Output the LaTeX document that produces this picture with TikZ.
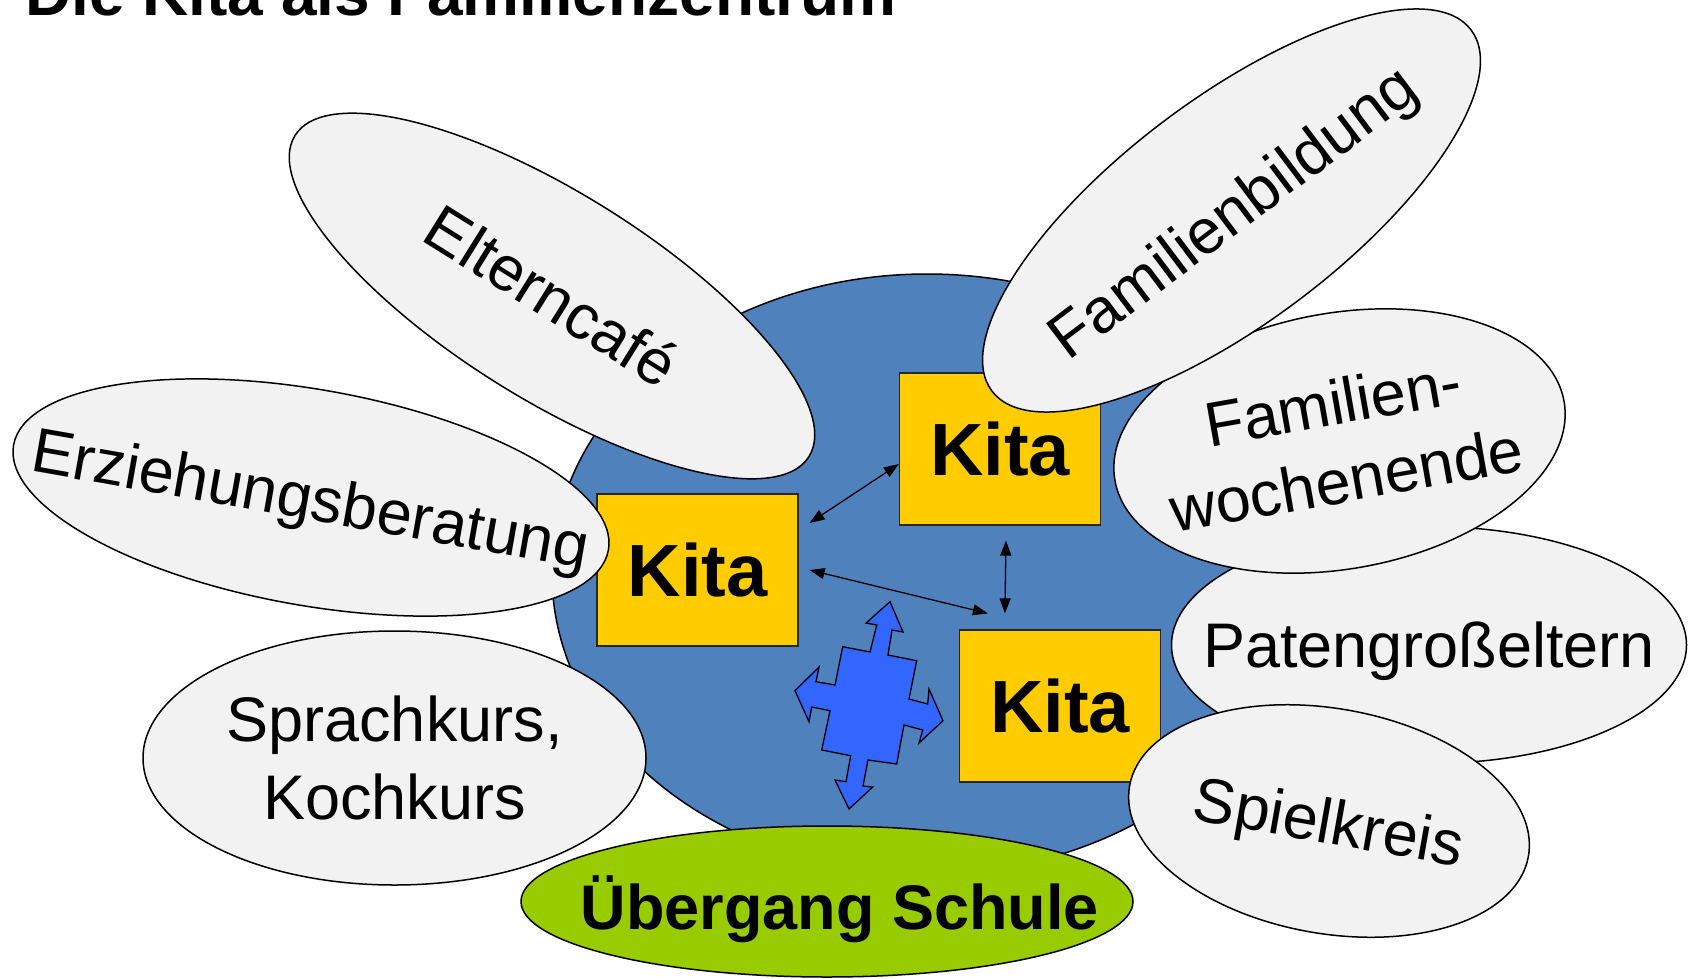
\documentclass[tikz,border=0pt]{standalone}
\usepackage{fontspec}
\setmainfont{Liberation Sans}
\usetikzlibrary{shapes.geometric,arrows.meta,calc}
\definecolor{hubblue}{HTML}{4F81BD}
\definecolor{bubblegray}{HTML}{F2F2F2}
\definecolor{kitayellow}{HTML}{FFCC00}
\definecolor{schulgreen}{HTML}{99CC00}
\definecolor{crossblue}{HTML}{3366FF}
\begin{document}
\begin{tikzpicture}[x=1pt,y=-1pt,
  bubble/.style={ellipse, draw=black, line width=1.5pt, fill=bubblegray, inner sep=0pt},
  bubbletext/.style={inner sep=0pt, align=center, font=\fontsize{63}{78}\selectfont},
  onelinetext/.style={bubbletext, text height=45pt, text depth=0pt},
  kitabox/.style={rectangle, draw=black!85, line width=1.2pt, fill=kitayellow,
    minimum width=201pt, minimum height=152pt, inner sep=0pt,
    font=\fontsize{74}{80}\selectfont\bfseries, text height=53pt, text depth=0pt},
  link/.style={{Triangle[length=15pt,width=11pt]}-{Triangle[length=15pt,width=11pt]}, line width=1.3pt, draw=black}]
\useasboundingbox (0,0) rectangle (1689,979);

% title
\node[anchor=base west, inner sep=0pt, font=\fontsize{64}{70}\selectfont\bfseries] (title) at (25,16) {Die Kita als Familienzentrum};

% central blue area
\node[ellipse, draw=black, line width=1.5pt, fill=hubblue, minimum width=750pt, minimum height=600pt, inner sep=0pt] (hub) at (927,574) {};

% Kita boxes
\node[kitabox] (kl) at (697.5,570) {Kita};
\node[kitabox] (kt) at (1000,449) {Kita};
\node[kitabox] (kb) at (1060,706) {Kita};

% links
\draw[link] ($(kl.east)+(11,-47)$) -- ($(kt.west)+(0,15)$);
\draw[link] ($(kl.east)+(11,0)$) -- ($(kb.north west)+(29,-16)$);
\draw[link] ($(kt.south)+(6,15)$) -- ($(kb.north west)+(46,-16)$);

% four-way arrow
\draw[fill=crossblue, line width=1.3pt, line join=miter]
  (890,601.7) -- (903,632) -- (892,630) -- (888,655) -- (916.7,660.7)
  -- (909,699) -- (927.7,704) -- (929,689) -- (943,720.7) -- (919,743)
  -- (922.7,730) -- (904,725) -- (896.7,764) -- (868,760) -- (863,786)
  -- (872.7,787) -- (849,809) -- (835,780) -- (846,781.7) -- (850.7,755.7)
  -- (821.7,750) -- (830,710.7) -- (811.7,707) -- (809,721.7) -- (795,690.7)
  -- (819,667) -- (816,681.7) -- (835,685) -- (842.7,646.7) -- (870,652)
  -- (876.7,625) -- (866,623) -- cycle;

% surrounding offers
\node[bubble, minimum width=515pt, minimum height=237pt] (pate) at (1429,645) {};
\node[onelinetext] at (pate) {Patengroßeltern};

\node[bubble, minimum width=456pt, minimum height=256pt, rotate=10] (wochen) at (1339.5,441) {};
\node[bubbletext, rotate=10] at (wochen) {Familien-\\wochenende};

\node[bubble, minimum width=600pt, minimum height=224pt, rotate=37] (bildung) at (1231.5,210.5) {};
\node[onelinetext, rotate=37] at (bildung) {Familienbildung};

\node[bubble, minimum width=606pt, minimum height=206pt, rotate=-32] (cafe) at (552,296) {};
\node[onelinetext, rotate=-32] at (cafe) {Elterncafé};

\node[bubble, minimum width=604pt, minimum height=216pt, rotate=-10] (beratung) at (311,497.5) {};
\node[onelinetext, rotate=-10] at (beratung) {Erziehungsberatung};

\node[bubble, minimum width=503pt, minimum height=254pt] (kurs) at (394.5,758) {};
\node[bubbletext] at (kurs) {Sprachkurs,\\Kochkurs};

\node[bubble, minimum width=405pt, minimum height=225pt, rotate=-10] (spiel) at (1329,821) {};
\node[onelinetext, rotate=-10] at (spiel) {Spielkreis};

\node[ellipse, draw=black, line width=1.5pt, fill=schulgreen, minimum width=612pt, minimum height=151pt, inner sep=0pt] (schule) at (827,901.5) {};
\node[onelinetext, font=\fontsize{63}{72}\selectfont\bfseries] at ($(schule)+(13,5)$) {Übergang Schule};
\end{tikzpicture}
\end{document}
